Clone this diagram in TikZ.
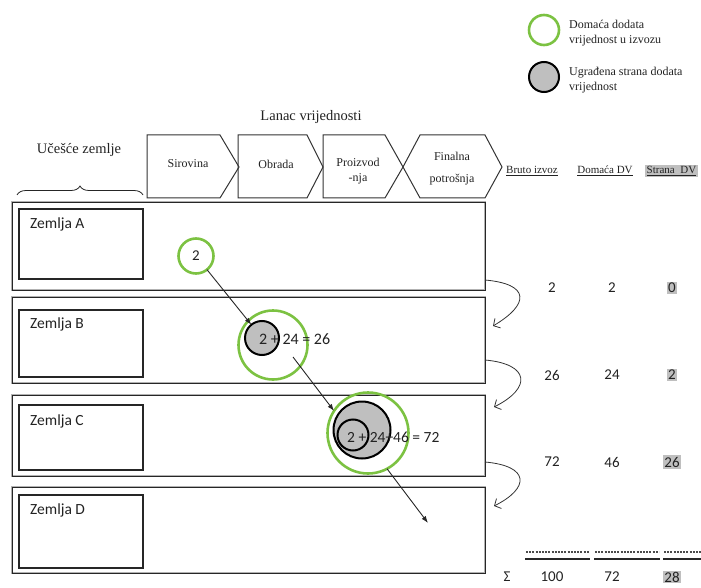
\documentclass[tikz,border=0pt]{standalone}
\usepackage{fontspec}
\setmainfont{Liberation Serif}
\newfontfamily\calibrifont{Carlito}
\usetikzlibrary{arrows.meta,calc,decorations.pathreplacing}
\definecolor{vagreen}{HTML}{7CC242}
\definecolor{vagray}{HTML}{BFBFBF}
\definecolor{txt}{HTML}{222222}
\begin{document}
\begin{tikzpicture}[x=1pt,y=-1pt,
  rowbox/.style={draw=black!85, line width=0.8pt, preaction={draw=gray!60, line width=2.4pt},
     anchor=north west, minimum width=473, inner sep=0, outer sep=0},
  innerbox/.style={draw=black!85, line width=1.2pt, anchor=north west, minimum width=124, inner sep=0, outer sep=0},
  lbl/.style={font=\calibrifont\fontsize{15.5}{17}\selectfont, text=txt, anchor=west, inner sep=0},
  num/.style={font=\calibrifont\fontsize{15}{17}\selectfont, text=txt, inner sep=1.5pt},
  hl/.style={fill=vagray},
  chev/.style={draw=black!80, line width=1pt},
  chevtxt/.style={font=\fontsize{12}{15}\selectfont, text=txt, align=center, inner sep=0},
  serif/.style={font=\fontsize{12}{15}\selectfont, text=txt, inner sep=0},
  greenring/.style={circle, draw=vagreen, line width=2.6pt, inner sep=0, outer sep=0},
  grayball/.style={circle, draw=black, line width=2pt, fill=vagray, inner sep=0, outer sep=0},
  diag/.style={-{Latex[length=7pt,width=5pt]}, line width=0.9pt, draw=black!85},
  curv/.style={-{Straight Barb[length=5pt,width=11pt]}, line width=0.8pt, draw=black!80}
]
\useasboundingbox (0,0) rectangle (701,588);

% legend
\node[greenring, minimum size=30] (lg) at (544,30) {};
\node[serif, anchor=west, align=left] (lgt) at (569,33) {Domaća dodata\\vrijednost u izvozu};
\node[grayball, minimum size=30] (lgr) at (544,77) {};
\node[serif, anchor=west, align=left] (lgrt) at (569,80) {Ugrađena strana dodata\\vrijednost};

% titles
\node[font=\fontsize{14.5}{17}\selectfont, text=txt, inner sep=0] (title) at (311,117) {Lanac vrijednosti};
\node[font=\fontsize{14.5}{17}\selectfont, text=txt, inner sep=0] (ucesce) at (79,150) {Učešće zemlje};
\draw[decorate, decoration={brace, amplitude=9pt}, line width=0.8pt, black!85] (17,195) -- (143,195);

% chevrons
\draw[chev] (147,135) -- (220,135) -- (239,167) -- (220,198) -- (147,198) -- cycle;
\draw[chev] (238,135) -- (307,135) -- (323,167) -- (307,198) -- (238,198) -- cycle;
\draw[chev] (323,135) -- (385,135) -- (403,167) -- (385,198) -- (323,198) -- cycle;
\draw[chev] (403,167) -- (420,135) -- (485,135) -- (502,167) -- (485,198) -- (420,198) -- cycle;
\node[chevtxt] (s1) at (188,164) {Sirovina};
\node[chevtxt] (s2) at (276,164) {Obrada};
\node[chevtxt] (s3) at (358,171) {Proizvod\\-nja};
\node[chevtxt] (s4) at (452,169) {Finalna\\[7pt]potrošnja};

% column headers
\node[serif, font=\fontsize{11}{13}\selectfont] (h1) at (532,171) {\underline{Bruto izvoz}};
\node[serif, font=\fontsize{11}{13}\selectfont] (h2) at (605,171) {\underline{Domaća DV}};
\node[serif, font=\fontsize{11}{13}\selectfont, anchor=west, fill=vagray, inner sep=1.5pt] (h3) at (645,171) {\underline{Strana\ \ DV}};

% rows
\node[rowbox, minimum height=88] (rowA) at (12,202) {};
\node[rowbox, minimum height=86] (rowB) at (12,297) {};
\node[rowbox, minimum height=81] (rowC) at (12,395) {};
\node[rowbox, minimum height=86] (rowD) at (12,487) {};

\node[innerbox, minimum height=70] (ia) at (19,209) {};
\node[innerbox, minimum height=67] (ib) at (19,310) {};
\node[innerbox, minimum height=65] (ic) at (19,405) {};
\node[innerbox, minimum height=73] (id) at (19,495) {};
\node[lbl] (la) at ($(ia.north west)+(11,15)$) {Zemlja A};
\node[lbl] (lb) at ($(ib.north west)+(11,14)$) {Zemlja B};
\node[lbl] (lc) at ($(ic.north west)+(11,16)$) {Zemlja C};
\node[lbl] (ld) at ($(id.north west)+(11,15)$) {Zemlja D};

% circles
\node[greenring, minimum size=35] (c2) at (196,256) {};
\node[num] (c2t) at (c2) {2};

\node[greenring, minimum size=69] (bgreen) at (273,345) {};
\node[grayball, minimum size=34] (bgray) at (262,338) {};
\node[num, anchor=west, font=\calibrifont\fontsize{16}{18}\selectfont, inner sep=0] (bt) at (259,339) {2 + 24 = 26};

\node[greenring, minimum size=81] (cgreen) at (368,433) {};
\node[grayball, minimum size=57] (cgray) at (362,430) {};
\node[circle, draw=black, line width=2pt, minimum size=31, inner sep=0] (cin) at (353,435) {};
\node[num, anchor=west, font=\calibrifont\fontsize{15.5}{18}\selectfont, inner sep=0] (ct) at (347,437) {2 + 24+46 = 72};

\coordinate (bstart) at (293,357);
\coordinate (dend) at (428,523);
\draw[diag] (c2) -- (bgray);
\draw[diag] (bstart) -- (cgreen.147);
\draw[diag] (cgreen.298) -- (dend);

% curved arrows between rows
\coordinate (aout) at ($(rowA.south east)+(0,-10)$);
\coordinate (bin) at ($(rowB.north east)+(8,29)$);
\coordinate (bout) at ($(rowB.south east)+(0,-23)$);
\coordinate (cin2) at ($(rowC.north east)+(9,12)$);
\coordinate (cout) at ($(rowC.south east)+(0,-14)$);
\coordinate (din) at ($(rowD.north east)+(9,19)$);
\draw[curv] (aout) .. controls (530,284) and (530,304) .. (bin);
\draw[curv] (bout) .. controls (530,364) and (532,388) .. (cin2);
\draw[curv] (cout) .. controls (530,466) and (530,488) .. (din);

% numbers
\node[num] (a1) at (552,288) {2};
\node[num] (a2) at (612,288) {2};
\node[num, hl] (a3) at (672,288) {0};
\node[num] (b1) at (552,375) {26};
\node[num] (b2) at (612,375) {24};
\node[num, hl] (b3) at (672,375) {2};
\node[num] (r1) at (552,462) {72};
\node[num] (r2) at (612,462) {46};
\node[num, hl] (r3) at (672,462) {26};

% sum rules
\draw[dashed, dash pattern=on 2pt off 1.2pt, line width=1.2pt, black!70] (526,552) -- (589,552);
\draw[dashed, dash pattern=on 2pt off 1.2pt, line width=1.2pt, black!70] (595,552) -- (659,552);
\draw[dashed, dash pattern=on 2pt off 1.2pt, line width=1.2pt, black!70] (664,552) -- (701,552);
\draw[line width=1.2pt, black!85] (525,559) -- (590,559);
\draw[line width=1.2pt, black!85] (594,559) -- (660,559);
\draw[line width=1.2pt, black!85] (663,559) -- (701,559);

\node[num, inner sep=1pt] (sig) at (507,577) {Σ};
\node[num, inner sep=1pt] (t1) at (552,577) {100};
\node[num, inner sep=1pt] (t2) at (612,577) {72};
\node[num, hl, inner sep=1pt] (t3) at (672,577) {28};
\end{tikzpicture}
\end{document}
